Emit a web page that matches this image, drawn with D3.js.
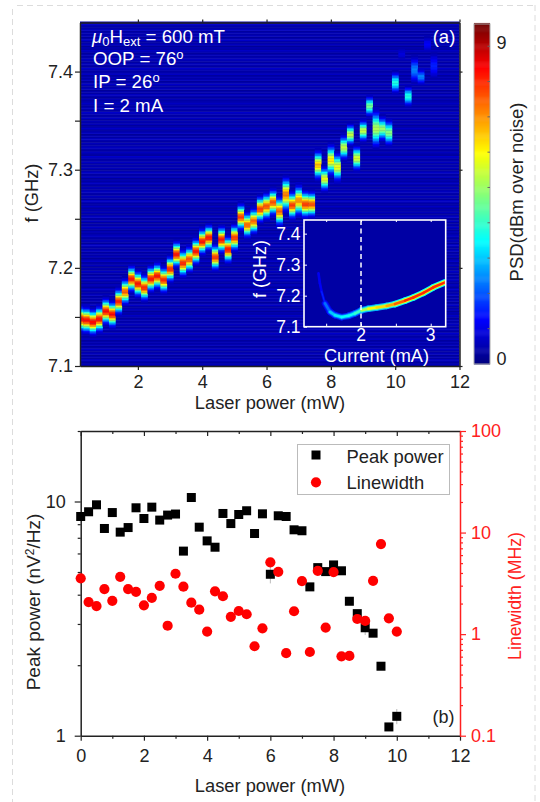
<!DOCTYPE html>
<html><head>
<meta charset="utf-8">
<title>Laser power chart</title>
<script src="https://d3js.org/d3.v7.min.js"></script>
<style>
  html, body { margin: 0; padding: 0; background: #fff; }
  text { font-family: "Liberation Sans", Arial, sans-serif; }
</style>
</head>
<body>
<svg id="plot" width="540" height="802" style="display:block"></svg>
<script>

// ------ PANEL A: one spectral peak per laser power column ------
const colPower = [0.2,0.4,0.6,0.8,1.0,1.2,1.4,1.6,1.8,2.0,2.2,2.4,2.6,2.8,3.0,3.2,3.4,3.6,3.8,4.0,
                  4.2,4.4,4.6,4.8,5.0,5.2,5.4,5.6,5.8,6.0,6.2,6.4,6.6,6.8,7.0,7.2,7.4,7.6,7.8,8.0,
                  8.2,8.4,8.6,8.8,9.0,9.2,9.4,9.6,9.8,10.0,10.2,10.4,10.6,10.8,11.0,11.2];
const colFreq = [7.148,7.147,7.145,7.148,7.156,7.153,7.166,7.176,7.189,7.184,7.180,7.189,7.192,7.188,7.199,7.214,7.205,7.209,7.217,7.227,
                 7.231,7.211,7.229,7.219,7.231,7.252,7.244,7.248,7.260,7.263,7.267,7.258,7.275,7.264,7.269,7.265,7.265,7.305,7.291,7.310,
                 7.303,7.323,7.336,7.312,7.340,7.365,7.342,7.342,7.338,7.389,7.418,7.375,7.402,7.395,7.428,7.406];
const colLevel = [8.3,8.3,8.4,8.3,8.3,8.3,8.1,7.5,8.2,8.2,8.0,8.2,8.2,8.0,8.0,8.2,8.0,7.6,8.2,8.2,
                  8.2,7.8,8.2,8.2,7.8,7.8,7.4,7.4,7.8,7.6,7.6,7.4,7.2,7.8,7.0,7.8,7.6,6.6,5.8,6.2,
                  5.8,5.4,5.4,5.6,5.4,4.6,5.2,5.0,4.8,3.8,0.9,3.8,2.4,2.4,1.2,1.5];
const colWidth = [.0062,.0062,.0062,.0062,.0062,.0062,.0062,.0062,.0062,.0062,.0062,.0062,.0062,.0062,.0062,.0062,.0064,.0062,.0062,.0062,
                  .0062,.0062,.0064,.0064,.0064,.0064,.0062,.0062,.0064,.0064,.0064,.0072,.0085,.0066,.0075,.0066,.0062,.0072,.0062,.0078,
                  .0072,.0062,.0054,.0062,.0054,.0052,.0095,.0062,.0066,.0056,.0040,.0052,.0075,.0046,.0050,.0080];

// horizontal stripes of the background (dB), read by eye and repeated over the rows
const rowNoise = [.37,.55,.30,.45,.67,.35,.49,.25,.61,.41,.33,.70,.47,.27,.57,.39,.51,.31,.65,.43,.35,.53,.73,.29,.45,.59,.33,.41,.63,.49];

// ------ INSET ------
const insetCurrent = [1.39,1.41,1.435,1.483,1.555,1.627,1.722,1.818,1.914,2.01,2.105,2.225,2.368,2.488,2.632,2.751,2.895,3.038,3.206];
const insetFreq = [7.272,7.24,7.213,7.175,7.148,7.137,7.131,7.135,7.143,7.153,7.158,7.162,7.167,7.173,7.184,7.194,7.209,7.227,7.243];
const insetLevel = [.9,1.2,1.6,2.2,3.0,3.3,3.5,3.6,4.0,5.2,6.0,6.3,6.8,7.5,8.0,8.0,8.0,8.0,8.0];

// ------ PANEL B ------
const laserPower = [0,.25,.5,.75,1,1.25,1.5,1.75,2,2.25,2.5,2.75,3,3.25,3.5,3.75,4,4.25,4.5,4.75,5,5.25,5.5,5.75,6,6.25,6.5,6.75,7,7.25,7.5,7.75,8,8.25,8.5,8.75,9,9.25,9.5,9.75,10];
const peakPower = [8.63,9.04,9.68,7.67,8.97,7.40,7.74,9.40,8.46,9.46,8.33,8.75,8.84,6.14,10.4,7.77,6.79,6.38,8.89,8.05,8.80,9.13,7.30,8.86,4.89,8.69,8.63,7.57,7.50,4.32,5.22,5.02,5.36,5.06,3.75,3.32,2.89,2.74,1.98,1.09,1.21];
const linewidth = [3.54,2.07,1.89,2.78,2.13,3.67,2.78,2.61,1.92,2.28,2.99,1.21,3.93,2.93,2.04,1.74,1.06,2.64,2.36,1.48,1.69,1.57,.76,1.14,5.09,4.11,.65,1.68,3.33,.667,4.2,1.16,4.08,.604,.61,1.41,1.35,3.35,7.7,1.43,1.06];
// the few error bars that stick out of their squares
const errPower = [6,9,10];
const errPeak = [4.89,2.89,1.21];
const errSize = [.42,.2,.09];

const svg = d3.select("svg#plot");

// page frame, dashed in the source
const frame = svg.append("g").attr("fill","none").attr("stroke","#dcdcdc").attr("stroke-dasharray","6,4");
frame.append("line").attr("x1",12.5).attr("x2",12.5).attr("y1",9).attr("y2",802);
frame.append("line").attr("x1",535).attr("x2",535).attr("y1",5).attr("y2",802);
frame.append("line").attr("x1",17).attr("x2",535).attr("y1",5.5).attr("y2",5.5);

const inkDark = "#222";

// jet style colour scale, stops
const jet = d3.scaleLinear()
  .domain([0, 1.25, 3.47, 5.97, 8.38, 9.63])
  .range(["#000080","#0000ff","#00ffff","#ffff00","#ff0000","#700000"])
  .clamp(true);

// ------ PANEL A ------
const ax = d3.scaleLinear().domain([0.2,12]).range([80,459.5]);
const ay = d3.scaleLinear().domain([7.1,7.45]).range([366,22.5]);
const panelA = svg.append("g").attr("id","panelA");

const rowStep = 0.0015;
const rowFreqs = d3.range(7.1, 7.45, rowStep);
panelA.selectAll("rect.bg").data(rowFreqs).join("rect")
  .attr("class","bg")
  .attr("x",ax(0.2)).attr("width",ax(12)-ax(0.2))
  .attr("y",d => ay(d+rowStep)).attr("height",d => ay(d)-ay(d+rowStep)+0.5)
  .attr("fill",(d,i) => jet(rowNoise[i % rowNoise.length]));

// cells around each peak
const cells = [];
colPower.forEach((p,i) => {
  rowFreqs.forEach((f,j) => {
    let z = (f + rowStep/2 - colFreq[i]) / colWidth[i];
    let level = colLevel[i] * Math.exp(-z*z/2);
    if (level > 0.4) cells.push({p:p, f:f, level:Math.max(level, rowNoise[j % rowNoise.length])});
  });
});
panelA.selectAll("rect.cell").data(cells).join("rect")
  .attr("class","cell")
  .attr("x",d => Math.max(ax(0.2), ax(d.p-0.1)))
  .attr("width",d => ax(d.p+0.1)-Math.max(ax(0.2), ax(d.p-0.1))+0.3)
  .attr("y",d => ay(d.f+rowStep)).attr("height",d => ay(d.f)-ay(d.f+rowStep)+0.3)
  .attr("fill",d => jet(d.level));

// axes of panel A
function styleAxis(g, color) {
  g.selectAll(".domain").attr("stroke",color).attr("stroke-width",1.5);
  g.selectAll(".tick line").attr("stroke",color).attr("stroke-width",1.2);
  g.selectAll(".tick text").attr("fill",color).attr("font-size",18);
}
const aBottom = panelA.append("g").attr("transform","translate(0,366)")
  .call(d3.axisBottom(ax).tickValues([2,4,6,8,10,12]).tickFormat(d3.format("d")).tickSize(4).tickSizeOuter(0).tickPadding(5));
styleAxis(aBottom, inkDark);
const aLeft = panelA.append("g").attr("transform","translate(80,0)")
  .call(d3.axisLeft(ay).tickValues([7.1,7.15,7.2,7.25,7.3,7.35,7.4]).tickFormat(d => (Math.round(d*100)%10===0) ? d3.format(".1f")(d) : "").tickSize(5).tickSizeOuter(0).tickPadding(2));
styleAxis(aLeft, inkDark);
const aTop = panelA.append("g").attr("transform","translate(0,22.5)")
  .call(d3.axisTop(ax).tickValues([2,4,6,8,10,12]).tickFormat("").tickSize(3).tickSizeOuter(0));
styleAxis(aTop, inkDark);
const aRight = panelA.append("g").attr("transform","translate(459.5,0)")
  .call(d3.axisRight(ay).tickValues([7.1,7.2,7.3,7.4]).tickFormat("").tickSize(3).tickSizeOuter(0));
styleAxis(aRight, inkDark);

panelA.append("text").attr("x",270).attr("y",409).attr("text-anchor","middle")
  .attr("font-size",18.3).attr("fill",inkDark).text("Laser power (mW)");
panelA.append("text").attr("transform","translate(38,193) rotate(-90)").attr("text-anchor","middle")
  .attr("font-size",18.3).attr("fill",inkDark).text("f (GHz)");

// annotation text
const noteX = 93;
const note1 = panelA.append("text").attr("x",noteX-1).attr("y",42.5).attr("fill","#fff").attr("font-size",18.7);
note1.append("tspan").attr("font-style","italic").text("\u03BC");
note1.append("tspan").attr("font-size",13).attr("dy",3).text("0");
note1.append("tspan").attr("dy",-3).text("H");
note1.append("tspan").attr("font-size",13).attr("dy",3).text("ext");
note1.append("tspan").attr("dy",-3).text(" = 600 mT");
[["OOP = 76",65],["IP = 26",88]].forEach(n => {
  let t = panelA.append("text").attr("x",noteX).attr("y",n[1]).attr("fill","#fff").attr("font-size",18.7).text(n[0]);
  t.append("tspan").attr("font-size",13).attr("dy",-6).text("o");
});
panelA.append("text").attr("x",noteX).attr("y",111.5).attr("fill","#fff").attr("font-size",18.7).text("I = 2 mA");
panelA.append("text").attr("x",444).attr("y",43).attr("text-anchor","middle").attr("fill","#fff").attr("font-size",18.5).text("(a)");

// ------ INSET ------
const ix = d3.scaleLinear().domain([1.182,3.215]).range([304,445.7]);
const iy = d3.scaleLinear().domain([7.1,7.444]).range([326.7,220]);
const inset = svg.append("g").attr("id","inset");
inset.append("rect").attr("x",304).attr("y",220).attr("width",141.7).attr("height",106.7).attr("fill",jet(0.35));

svg.append("clipPath").attr("id","insetClip").append("rect")
  .attr("x",304).attr("y",220).attr("width",141.7).attr("height",106.7);
const insetPts = insetCurrent.map((c,i) => ({c:c, f:insetFreq[i], level:insetLevel[i]}));
const insetLine = d3.line().x(d => ix(d.c)).y(d => iy(d.f));
const insetClipped = inset.append("g").attr("clip-path","url(#insetClip)");
// halo first, then core, segment by segment so the colour follows the level
[[6.5,0.45],[4.4,0.72],[2.6,1]].forEach(layer => {
  d3.pairs(insetPts).forEach(pair => {
    insetClipped.append("path").attr("d",insetLine(pair)).attr("fill","none")
      .attr("stroke",jet(Math.max(1.1,pair[0].level*layer[1])))
      .attr("stroke-width",layer[0]*(pair[0].level < 2 ? 0.4 : 1)).attr("stroke-linecap","round");
  });
});

inset.append("rect").attr("x",304).attr("y",220).attr("width",141.7).attr("height",106.7)
  .attr("fill","none").attr("stroke","#fff").attr("stroke-width",1.6);
inset.append("line").attr("x1",ix(2)).attr("x2",ix(2)).attr("y1",220).attr("y2",326.7)
  .attr("stroke","#fff").attr("stroke-width",1.5).attr("stroke-dasharray","5,3.5");

const iBottom = inset.append("g").attr("transform","translate(0,326.7)")
  .call(d3.axisTop(ix).tickValues([1.5,2,2.5,3]).tickFormat("").tickSize(3).tickSizeOuter(0));
iBottom.selectAll(".domain").remove();
iBottom.selectAll(".tick line").attr("stroke","#fff");
const iTop = inset.append("g").attr("transform","translate(0,220)")
  .call(d3.axisBottom(ix).tickValues([1.5,2,2.5,3]).tickFormat("").tickSize(2).tickSizeOuter(0));
iTop.selectAll(".domain").remove();
iTop.selectAll(".tick line").attr("stroke","#fff");
const iLeft = inset.append("g").attr("transform","translate(304,0)")
  .call(d3.axisRight(iy).tickValues([7.1,7.2,7.3,7.4]).tickFormat("").tickSize(3).tickSizeOuter(0));
iLeft.selectAll(".domain").remove();
iLeft.selectAll(".tick line").attr("stroke","#fff");

inset.selectAll("text.iy").data([7.1,7.2,7.3,7.4]).join("text").attr("class","iy")
  .attr("x",300.5).attr("y",d => iy(d)+6.5)
  .attr("text-anchor","end").attr("fill","#fff").attr("font-size",17.5).text(d => d3.format(".1f")(d));
inset.selectAll("text.ix").data([2,3]).join("text").attr("class","ix")
  .attr("x",d => ix(d)).attr("y",341).attr("text-anchor","middle").attr("fill","#fff").attr("font-size",17.5).text(d => d);
inset.append("text").attr("x",376.5).attr("y",361.5).attr("text-anchor","middle").attr("fill","#fff").attr("font-size",18.2).text("Current (mA)");
inset.append("text").attr("transform","translate(266,269) rotate(-90)").attr("text-anchor","middle").attr("fill","#fff").attr("font-size",18).text("f (GHz)");

// ------ COLOUR BAR ------
const cy = d3.scaleLinear().domain([0,9.63]).range([364,24]);
const bar = svg.append("g").attr("id","colorbar");
bar.selectAll("rect").data(d3.range(0,9.63,0.03)).join("rect")
  .attr("x",474).attr("width",16)
  .attr("y",d => cy(d+0.03)).attr("height",d => cy(d)-cy(d+0.03)+0.5)
  .attr("fill",d => jet(d));
bar.append("rect").attr("x",474).attr("y",24).attr("width",16).attr("height",340)
  .attr("fill","none").attr("stroke","#aaa").attr("stroke-width",1);
bar.selectAll("line").data(d3.range(1,10)).join("line")
  .attr("x1",487.5).attr("x2",490).attr("y1",d => cy(d)).attr("y2",d => cy(d)).attr("stroke","#666");
bar.selectAll("text.tk").data([0,9]).join("text").attr("class","tk")
  .attr("x",496.5).attr("y",d => d===9 ? 48.5 : 365).attr("font-size",18).attr("fill",inkDark).text(d => d);
bar.append("text").attr("transform","translate(522.5,192) rotate(-90)").attr("text-anchor","middle")
  .attr("font-size",18.5).attr("fill",inkDark).text("PSD(dBm over noise)");

// ------ PANEL B ------
const bx = d3.scaleLinear().domain([0,12]).range([80.7,460]);
const by = d3.scaleLog().domain([1,20]).range([735.7,431]);
const byR = d3.scaleLog().domain([0.1,100]).range([735.7,431]);
const panelB = svg.append("g").attr("id","panelB");

const bBottom = panelB.append("g").attr("transform","translate(0,735.7)")
  .call(d3.axisBottom(bx).tickValues(d3.range(0,13)).tickFormat(d => d%2===0 ? d : "").tickSize(0).tickSizeOuter(0).tickPadding(14));
bBottom.selectAll(".tick line").attr("y2",d => d%2===0 ? 5 : 3);
styleAxis(bBottom, inkDark);
const bTop = panelB.append("g").attr("transform","translate(0,431)")
  .call(d3.axisTop(bx).tickValues(d3.range(0,13)).tickFormat("").tickSize(0).tickSizeOuter(0));
bTop.selectAll(".tick line").attr("y1",0).attr("y2",d => d%2===0 ? 5 : 3);
styleAxis(bTop, inkDark);

const leftTicks = [1,2,3,4,5,6,7,8,9,10,20];
const bLeft = panelB.append("g").attr("transform","translate(80.7,0)")
  .call(d3.axisLeft(by).tickValues(leftTicks).tickFormat(d => (d===1||d===10) ? d : "").tickSize(3).tickSizeOuter(0).tickPadding(12));
bLeft.selectAll(".tick line").attr("x2",d => (d===1||d===10) ? -6 : -3);
styleAxis(bLeft, inkDark);

const rightTicks = [];
[0.1,1,10].forEach(dec => [1,2,3,4,5,6,7,8,9].forEach(m => rightTicks.push(dec*m)));
rightTicks.push(100);
const isDecade = d => Math.abs(Math.log10(d) - Math.round(Math.log10(d))) < 1e-6;
const bRight = panelB.append("g").attr("transform","translate(460,0)")
  .call(d3.axisRight(byR).tickValues(rightTicks).tickFormat(d => isDecade(d) ? d3.format("~g")(+d.toPrecision(1)) : "").tickSize(3).tickSizeOuter(0).tickPadding(8));
bRight.selectAll(".tick line").attr("x2",d => isDecade(d) ? 6 : 3);
styleAxis(bRight, "#ff2020");

// error bars, black squares, then red dots on top
panelB.selectAll("line.err").data(errPower).join("line")
  .attr("class","err").attr("x1",d => bx(d)).attr("x2",d => bx(d))
  .attr("y1",(d,i) => by(errPeak[i]+errSize[i])).attr("y2",(d,i) => by(errPeak[i]-errSize[i]))
  .attr("stroke","#bbb");
panelB.selectAll("rect.peak").data(laserPower).join("rect")
  .attr("class","peak").attr("x",d => bx(d)-4.5).attr("width",9).attr("height",9)
  .attr("y",(d,i) => by(peakPower[i])-4.5).attr("fill","#000");
panelB.selectAll("circle.lw").data(laserPower).join("circle")
  .attr("class","lw").attr("cx",d => bx(d)).attr("r",5.1)
  .attr("cy",(d,i) => byR(linewidth[i])).attr("fill","#ff0000");

panelB.append("text").attr("x",270).attr("y",792).attr("text-anchor","middle")
  .attr("font-size",18.3).attr("fill",inkDark).text("Laser power (mW)");
const yB = panelB.append("text").attr("transform","translate(40,602) rotate(-90)").attr("text-anchor","middle")
  .attr("font-size",19).attr("fill",inkDark).text("Peak power (nV");
yB.append("tspan").attr("font-size",12).attr("dy",-6).text("2");
yB.append("tspan").attr("dy",6).text("/Hz)");
panelB.append("text").attr("transform","translate(521,596) rotate(-90)").attr("text-anchor","middle")
  .attr("font-size",17.7).attr("fill","#ff2020").text("Linewidth (MHz)");
panelB.append("text").attr("x",443.5).attr("y",723).attr("text-anchor","middle")
  .attr("font-size",18).attr("fill",inkDark).text("(b)");

// legend
const legend = panelB.append("g");
legend.append("rect").attr("x",297.5).attr("y",444.5).attr("width",152).attr("height",50)
  .attr("fill","#fff").attr("stroke","#bbb");
legend.append("rect").attr("x",311.5).attr("y",450.5).attr("width",9).attr("height",9).attr("fill","#000");
legend.append("circle").attr("cx",316).attr("cy",482.3).attr("r",5.1).attr("fill","#ff0000");
legend.append("text").attr("x",346.5).attr("y",462.5).attr("font-size",18.4).attr("fill",inkDark).text("Peak power");
legend.append("text").attr("x",346.5).attr("y",488.5).attr("font-size",18.4).attr("fill",inkDark).text("Linewidth");

</script>
</body></html>
